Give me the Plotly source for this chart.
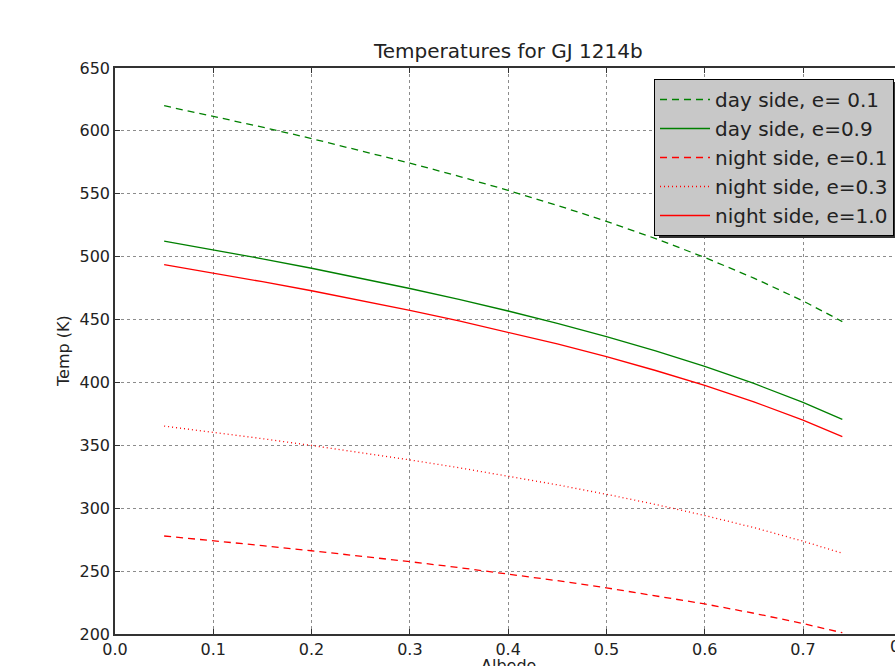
import plotly.graph_objects as go

albedo = [0.05, 0.10, 0.15, 0.20, 0.25, 0.30, 0.35, 0.40, 0.45, 0.50, 0.55, 0.60, 0.65, 0.70, 0.74]

day_e01 = [620.0, 611.7, 603.0, 593.9, 584.4, 574.4, 563.9, 552.7, 540.8, 528.1, 514.4, 499.4, 483.0, 464.8, 448.4]
day_e09 = [512.4, 505.5, 498.3, 490.8, 483.0, 474.7, 466.0, 456.8, 446.9, 436.4, 425.1, 412.7, 399.2, 384.1, 370.6]
night_e01 = [277.9, 274.2, 270.3, 266.2, 262.0, 257.5, 252.8, 247.8, 242.4, 236.7, 230.6, 223.9, 216.5, 208.3, 201.0]
night_e03 = [365.3, 360.4, 355.3, 349.9, 344.3, 338.4, 332.2, 325.6, 318.6, 311.1, 303.0, 294.2, 284.6, 273.8, 264.2]
night_e10 = [493.6, 487.0, 480.1, 472.9, 465.3, 457.3, 449.0, 440.1, 430.6, 420.5, 409.5, 397.6, 384.6, 370.0, 357.0]

series_names = ["day side, e= 0.1", "day side, e=0.9", "night side, e=0.1",
                "night side, e=0.3", "night side, e=1.0"]

x_ticks = [0.0, 0.1, 0.2, 0.3, 0.4, 0.5, 0.6, 0.7]
y_ticks = [200, 250, 300, 350, 400, 450, 500, 550, 600, 650]

GREEN = "#008000"
RED = "#ff0000"
FONT = "DejaVu Sans"
TXT = "#222"

styles = [
    (day_e01, GREEN, "7px,5px"),
    (day_e09, GREEN, "solid"),
    (night_e01, RED, "7px,5px"),
    (night_e03, RED, "1px,3px"),
    (night_e10, RED, "solid"),
]

fig = go.Figure()
for name, (vals, col, dash) in zip(series_names, styles):
    fig.add_trace(go.Scatter(x=albedo, y=vals, mode="lines", name=name,
                             line=dict(color=col, width=1.3, dash=dash)))

fig.update_layout(
    width=895, height=666,
    margin=dict(l=115, r=0, t=68, b=32),
    paper_bgcolor="white", plot_bgcolor="white",
    font=dict(family=FONT, size=16, color=TXT),
    showlegend=True,
    legend=dict(
        x=(894 - 115) / 780, y=(634 - 79) / 566, xanchor="right", yanchor="top",
        bgcolor="rgb(200,200,200)", bordercolor="black", borderwidth=1,
        font=dict(family=FONT, size=20, color=TXT),
        tracegroupgap=0, itemwidth=50,
    ),
    xaxis=dict(
        range=[0, 0.7936], tickvals=x_ticks, ticktext=[f"{v:.1f}" for v in x_ticks],
        showgrid=True, gridcolor="rgba(0,0,0,0.45)", griddash="dot", gridwidth=1,
        showline=True, linecolor="#333", linewidth=1.5, mirror="ticks",
        ticks="inside", ticklen=5, tickcolor="#333", zeroline=False,
        tickfont=dict(family=FONT, size=16, color=TXT),
    ),
    yaxis=dict(
        range=[200, 650], tickvals=y_ticks,
        showgrid=True, gridcolor="rgba(0,0,0,0.45)", griddash="dot", gridwidth=1,
        showline=True, linecolor="#333", linewidth=1.5,
        ticks="inside", ticklen=5, tickcolor="#333", zeroline=False,
        tickfont=dict(family=FONT, size=16, color=TXT),
    ),
    annotations=[
        dict(text="Temperatures for GJ 1214b", xref="paper", yref="paper",
             x=0.504, y=1, yanchor="bottom", yshift=3, showarrow=False,
             font=dict(family=FONT, size=20, color=TXT)),
        dict(text="Albedo", xref="paper", yref="paper", x=0.504, y=0,
             yanchor="top", yshift=-20, showarrow=False,
             font=dict(family=FONT, size=16, color=TXT)),
        dict(text="Temp (K)", xref="paper", yref="paper", x=0, y=0.5,
             xanchor="center", xshift=-52, textangle=-90, showarrow=False,
             font=dict(family=FONT, size=16, color=TXT)),
        dict(text="0.8", xref="paper", yref="paper", x=(888 - 115) / 780, y=0,
             xanchor="left", yanchor="top", yshift=-1, showarrow=False,
             font=dict(family=FONT, size=16, color=TXT)),
    ],
    shapes=[
        dict(type="rect", xref="paper", yref="paper",
             x0=(659 - 115) / 780, x1=(895 - 115) / 780,
             y0=(634 - 238) / 566, y1=(634 - 82) / 566,
             fillcolor="#333", line=dict(width=0), layer="above"),
    ],
)

fig.write_html("out.html", config={"displayModeBar": False},
               post_script="document.body.style.margin='0px';")
